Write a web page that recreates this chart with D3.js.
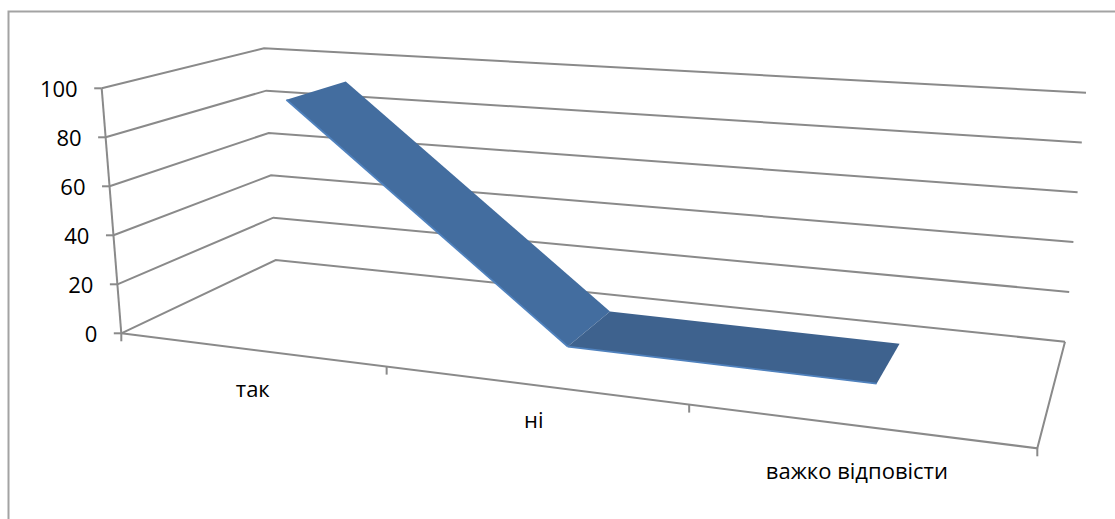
<!DOCTYPE html>
<html>
<head>
<meta charset="utf-8">
<style>
  body { margin: 0; background: #fff; }
  text { font-family: "Open Sans", sans-serif; fill: #000; }
</style>
<script src="https://cdn.jsdelivr.net/npm/d3@7"></script>
</head>
<body>
<svg id="chart" width="1115" height="519"></svg>
<script>
const categories = ["так", "ні", "важко відповісти"];
const values = [93, 3.5, 3];
const yTicks = [0, 20, 40, 60, 80, 100];

// box corners as seen on the picture: front left, front right, back right, back left
const floorQuad = [[121.3, 333.3], [1037.3, 448.3], [1065, 341.7], [275.7, 260]];
const topQuad = [[101.7, 88.3], [1061.4, 151], [1086, 92.7], [264, 48.3]];
const ribbonDepth = [0.3, 0.71];

const svg = d3.select("#chart");
const gridColor = "#8a8a8a";

const xBand = d3.scaleBand().domain(categories).range([0, 1]);
const yScale = d3.scaleLinear().domain([0, 100]).range([0, 1]);

// unit square to quad, perspective
const quadMap = (q) => {
  const [[x0, y0], [x1, y1], [x2, y2], [x3, y3]] = q;
  const dx1 = x1 - x2, dx2 = x3 - x2, sx = x0 - x1 + x2 - x3;
  const dy1 = y1 - y2, dy2 = y3 - y2, sy = y0 - y1 + y2 - y3;
  const den = dx1 * dy2 - dx2 * dy1;
  const g = (sx * dy2 - dx2 * sy) / den;
  const h = (dx1 * sy - sx * dy1) / den;
  const a = x1 - x0 + g * x1, b = x3 - x0 + h * x3;
  const d = y1 - y0 + g * y1, e = y3 - y0 + h * y3;
  return (u, v) => {
    const w = g * u + h * v + 1;
    return [(a * u + b * v + x0) / w, (d * u + e * v + y0) / w];
  };
};

const floorMap = quadMap(floorQuad);
const topMap = quadMap(topQuad);

// u along the categories, value up, depth from front to back
const project = (u, value, depth) => {
  const p0 = floorMap(u, depth);
  const p1 = topMap(u, depth);
  return d3.interpolateArray(p0, p1)(yScale(value));
};

const line = d3.line();
const grid = svg.append("g").attr("fill", "none").attr("stroke", gridColor).attr("stroke-width", 2);

// outer frame, no right or bottom side
svg.append("path")
  .attr("d", line([[8.5, 519], [8.5, 11.5], [1115, 11.5]]))
  .attr("fill", "none")
  .attr("stroke", "#a3a3a3")
  .attr("stroke-width", 2);

// gridlines over the side wall and back wall
yTicks.forEach((t) => {
  grid.append("path").attr("d", line([project(0, t, 0), project(0, t, 1), project(1, t, 1)]));
  const front = project(0, t, 0);
  grid.append("path").attr("d", line([[front[0] - 7.5, front[1]], front]));
  svg.append("text")
    .attr("x", front[0] - 24)
    .attr("y", front[1] + 3)
    .attr("text-anchor", "end")
    .attr("dominant-baseline", "middle")
    .attr("font-size", 22)
    .text(t);
});

// y axis and floor
grid.append("path").attr("d", line([project(0, 100, 0), project(0, 0, 0)]));
grid.append("path").attr("d", line([project(0, 0, 0), project(1, 0, 0), project(1, 0, 1)]));

// category ticks and labels
const edges = [0].concat(categories.map((c) => xBand(c) + xBand.step()));
edges.forEach((u) => {
  const p = project(u, 0, 0);
  grid.append("path").attr("d", line([p, [p[0], p[1] + 8]]));
});
const labelOffsets = [[3, 48], [1, 43], [0, 53]];
categories.forEach((c, i) => {
  const p = project(xBand(c) + xBand.step() / 2, 0, 0);
  svg.append("text")
    .attr("x", p[0] + labelOffsets[i][0])
    .attr("y", p[1] + labelOffsets[i][1])
    .attr("text-anchor", "middle")
    .attr("font-size", 22)
    .text(c);
});

// ribbon
const segFill = ["#436d9f", "#3e628e"];
const centers = categories.map((c) => xBand(c) + xBand.step() / 2);
d3.range(categories.length - 1).forEach((i) => {
  const a = [centers[i], values[i]];
  const b = [centers[i + 1], values[i + 1]];
  svg.append("path")
    .attr("d", line([
      project(a[0], a[1], ribbonDepth[0]),
      project(a[0], a[1], ribbonDepth[1]),
      project(b[0], b[1], ribbonDepth[1]),
      project(b[0], b[1], ribbonDepth[0]),
    ]) + "Z")
    .attr("fill", segFill[i]);
  svg.append("path")
    .attr("d", line([project(a[0], a[1], ribbonDepth[0]), project(b[0], b[1], ribbonDepth[0])]))
    .attr("fill", "none")
    .attr("stroke", "#4f81bd")
    .attr("stroke-width", 1.8);
});
</script>
</body>
</html>
